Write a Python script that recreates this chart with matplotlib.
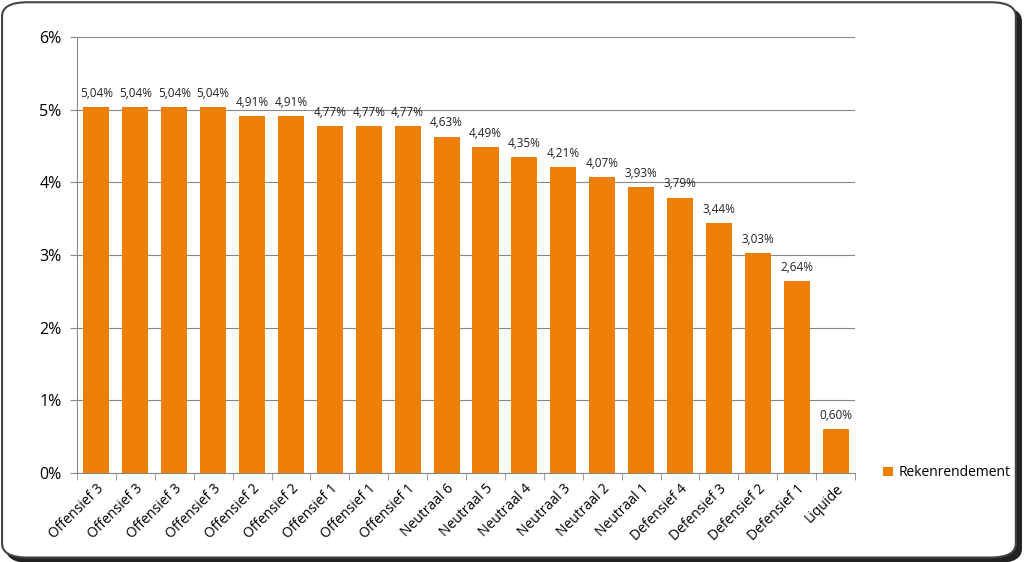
import matplotlib
matplotlib.use("Agg")
import matplotlib.pyplot as plt
from matplotlib.patches import FancyBboxPatch
from matplotlib.ticker import FuncFormatter, FixedLocator
import numpy as np

plt.rcParams['font.family'] = ['Open Sans', 'DejaVu Sans']

# data
categories = ["Offensief 3", "Offensief 3", "Offensief 3", "Offensief 3",
              "Offensief 2", "Offensief 2", "Offensief 1", "Offensief 1",
              "Offensief 1", "Neutraal 6", "Neutraal 5", "Neutraal 4",
              "Neutraal 3", "Neutraal 2", "Neutraal 1", "Defensief 4",
              "Defensief 3", "Defensief 2", "Defensief 1", "Liquide"]
values = [5.04, 5.04, 5.04, 5.04, 4.91, 4.91, 4.77, 4.77, 4.77, 4.63,
          4.49, 4.35, 4.21, 4.07, 3.93, 3.79, 3.44, 3.03, 2.64, 0.60]
series_name = "Rekenrendement"

bar_color = "#ED7F06"
grid_color = "#888888"

fig = plt.figure(figsize=(10.24, 5.62), dpi=100)

# rounded frame with shadow
shadow = FancyBboxPatch((0.006, -0.002), 0.992, 0.99, boxstyle="round,pad=0,rounding_size=0.025",
                        transform=fig.transFigure, facecolor="#222222", edgecolor="none", zorder=-3)
frame = FancyBboxPatch((0.002, 0.008), 0.99, 0.988, boxstyle="round,pad=0,rounding_size=0.025",
                       transform=fig.transFigure, facecolor="white", edgecolor="#444444",
                       linewidth=1.5, zorder=-2)
fig.patches.extend([shadow, frame])

ax = fig.add_axes([0.0752, 0.1584, 0.7598, 0.7756])
ax.set_facecolor("none")
ax.set_zorder(2)

x = np.arange(len(values))
bars = ax.bar(x, values, width=0.67, color=bar_color, zorder=3, label=series_name)

for xi, v in zip(x, values):
    ax.text(xi, v + 0.1, f"{v:.2f}%".replace(".", ","), ha="center", va="bottom",
            fontsize=8.5, color="#222222")

ax.set_xlim(-0.5, len(values) - 0.5)
ax.set_ylim(0, 6)
ax.set_yticks(range(0, 7))
ax.yaxis.set_major_formatter(FuncFormatter(lambda v, p: f"{int(v)}%"))
ax.grid(axis="y", color=grid_color, linewidth=0.8, zorder=0)

ax.set_xticks(x)
ax.set_xticklabels(categories, rotation=45, ha="right", rotation_mode="anchor", fontsize=10)
ax.tick_params(axis="x", length=0, pad=6)
ax.xaxis.set_minor_locator(FixedLocator(np.arange(-0.5, len(values), 1)))
ax.tick_params(axis="x", which="minor", length=5, color=grid_color)
ax.tick_params(axis="y", length=5, color=grid_color, labelsize=11.5, pad=6)

for s in ["top", "right"]:
    ax.spines[s].set_visible(False)
for s in ["left", "bottom"]:
    ax.spines[s].set_color(grid_color)
    ax.spines[s].set_linewidth(0.8)

ax.legend(loc="center left", bbox_to_anchor=(1.02, 0.0), frameon=False, fontsize=10,
          handlelength=0.7, handleheight=0.7, handletextpad=0.4)

fig.savefig("out.png", dpi=100)
